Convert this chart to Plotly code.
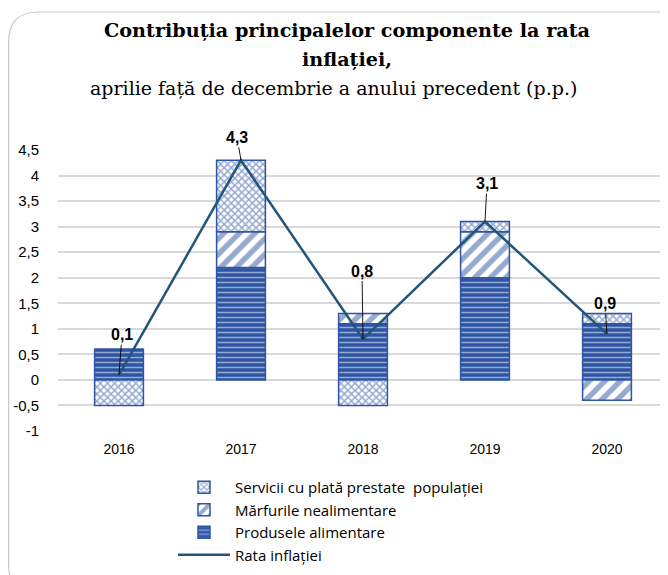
import plotly.graph_objects as go

years = ["2016", "2017", "2018", "2019", "2020"]
servicii = [-0.5, 1.4, -0.5, 0.2, 0.2]
marfuri = [0.0, 0.7, 0.2, 0.9, -0.4]
produse = [0.6, 2.2, 1.1, 2.0, 1.1]
rata = [0.1, 4.3, 0.8, 3.1, 0.9]
rata_labels = ["0,1", "4,3", "0,8", "3,1", "0,9"]
y_ticks = [-1, -0.5, 0, 0.5, 1, 1.5, 2, 2.5, 3, 3.5, 4, 4.5]
y_ticklabels = ["-1", "-0,5", "0", "0,5", "1", "1,5", "2", "2,5", "3", "3,5", "4", "4,5"]
names = ["Servicii cu plată prestate  populației", "Mărfurile nealimentare",
         "Produsele alimentare", "Rata inflației"]

# page body has an 8px margin; figure sized to fit the 668x575 window
OFF = 8
W, H = 660, 567
ML, MR, MT, MB = 50, 0, 142, 144
PW, PH = W - ML - MR, H - MT - MB

def px2paper(sx, sy):
    fx, fy = sx - OFF, sy - OFF
    return (fx - ML) / PW, (H - MB - fy) / PH

BLUE = "#2E55A3"
LINE = "#22567A"
SANS = "Liberation Sans"
SERIF = "DejaVu Serif"

fig = go.Figure()
fig.add_trace(go.Bar(
    x=years, y=produse, name=names[2], legendrank=3,
    marker=dict(color=BLUE, line=dict(color=BLUE, width=1.5),
                pattern=dict(shape="-", bgcolor=BLUE, fgcolor="white", size=5, solidity=0.3)),
))
fig.add_trace(go.Bar(
    x=years, y=marfuri, name=names[1], legendrank=2,
    marker=dict(color=BLUE, line=dict(color=BLUE, width=1.5),
                pattern=dict(shape="/", bgcolor="white", fgcolor=BLUE, size=11, solidity=0.5)),
))
fig.add_trace(go.Bar(
    x=years, y=servicii, name=names[0], legendrank=1,
    marker=dict(color=BLUE, line=dict(color=BLUE, width=1.5),
                pattern=dict(shape="x", bgcolor="white", fgcolor=BLUE, size=5, solidity=0.5)),
))
fig.add_trace(go.Scatter(
    x=years, y=rata, name=names[3], legendrank=4, mode="lines",
    line=dict(color=LINE, width=2.5),
))

offsets = [(3, -40), (-4, -23), (-1, -68), (2, -38), (-2, -30)]
annotations = []
for i, (yv, lab, (ax, ay)) in enumerate(zip(rata, rata_labels, offsets)):
    annotations.append(dict(
        x=i, y=yv, xref="x", yref="y", text="<b>" + lab + "</b>",
        showarrow=True, arrowhead=0, arrowwidth=0.9, arrowcolor="black",
        ax=ax, ay=ay, standoff=0, font=dict(family=SANS, size=16, color="black"),
    ))

# Title lines
for txt, sx, sy, size in [("<b>Contribuția principalelor componente la rata</b>", 347, 30, 19.2),
                          ("<b>inflației,</b>", 347, 60, 19.2),
                          ("aprilie față de decembrie a anului precedent (p.p.)", 333, 88, 19)]:
    px_, py_ = px2paper(sx, sy)
    annotations.append(dict(x=px_, y=py_, xref="paper", yref="paper", text=txt,
                            showarrow=False, xanchor="center", yanchor="middle",
                            font=dict(family=SERIF, size=size, color="black")))

# rounded border
x0, y0, x1, y1, r = 8.6, 12, 690, 595, 30
def P(x, y):
    a, b = px2paper(x, y)
    return f"{a:.5f},{b:.5f}"
path = (f"M {P(x0 + r, y0)} L {P(x1 - r, y0)} Q {P(x1, y0)} {P(x1, y0 + r)} "
        f"L {P(x1, y1 - r)} Q {P(x1, y1)} {P(x1 - r, y1)} "
        f"L {P(x0 + r, y1)} Q {P(x0, y1)} {P(x0, y1 - r)} "
        f"L {P(x0, y0 + r)} Q {P(x0, y0)} {P(x0 + r, y0)} Z")

lx, ly = px2paper(173, 571)
fig.update_layout(
    width=W, height=H,
    margin=dict(l=ML, r=MR, t=MT, b=MB, pad=0, autoexpand=False),
    paper_bgcolor="white", plot_bgcolor="white",
    barmode="relative", bargap=0.6,
    showlegend=True,
    legend=dict(x=lx, y=ly, xanchor="left", yanchor="bottom", orientation="v",
                font=dict(family="Open Sans", size=15, color="black"),
                itemwidth=52,
                tracegroupgap=0, bgcolor="rgba(0,0,0,0)"),
    xaxis=dict(type="category", showgrid=False, zeroline=False, showline=False, ticks="",
               automargin=False,
               tickfont=dict(family=SANS, size=14, color="black"),
               ticklabelstandoff=8),
    yaxis=dict(range=[-1, 4.5], tickvals=y_ticks, ticktext=y_ticklabels,
               automargin=False,
               showgrid=True, gridcolor="#D9D9D9", gridwidth=1.5,
               zeroline=True, zerolinecolor="#D9D9D9", zerolinewidth=1.5,
               showline=False, ticks="",
               tickfont=dict(family=SANS, size=15, color="black"),
               ticklabelstandoff=18),
    annotations=annotations,
    shapes=[dict(type="path", path=path, xref="paper", yref="paper",
                 line=dict(color="#C8C8C8", width=1.2), layer="above")],
)

fig.write_html("out.html")
